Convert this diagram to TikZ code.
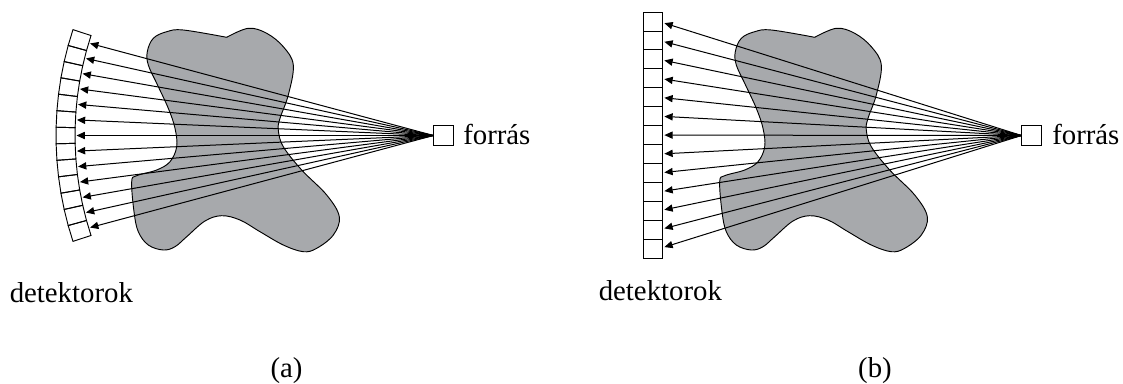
\documentclass[tikz,border=0pt]{standalone}
\usepackage{fontspec}
\setmainfont{Liberation Serif}
\usepackage{xcolor}
\usetikzlibrary{arrows.meta,positioning,calc}
\definecolor{blobgray}{RGB}{167,169,172}
\tikzset{
  ray/.style={-{Triangle[length=6.2pt,width=5.4pt]},line width=0.75pt},
  sourcebox/.style={draw,line width=0.7pt,minimum size=14.5pt,inner sep=0pt,outer sep=0pt},
  cellbox/.style={draw,line width=0.7pt,minimum width=14.8pt,minimum height=14.2pt,inner sep=0pt,outer sep=0pt},
  label/.style={font=\fontsize{21.6}{24}\selectfont,inner sep=0pt,anchor=base west},
}
\newcommand{\blob}{%
\draw[fill=blobgray,line width=0.7pt] plot[smooth,tension=0.6] coordinates {
(226.7,37.3) (248.3,28.3) (266.7,33.3) (283.3,46.7) (293.3,65) (288.3,95) (280,118.3) (278.3,130)
(283.3,146.7) (301.7,170) (326.7,195) (339.3,216.7) (333.3,235) (316.7,248.3) (303.3,251.7)
(283.3,245) (260,231.7) (240,220) (221.7,215.7) (205,221) (186.7,236.7) (175,246.7) (163.3,250)
(148.3,245) (138.3,231.7) (134,211.7) (131.7,181.7) (136.7,175.7) (156.7,170) (170,161.7)
(176.7,146.7) (175,128.3) (168.3,108.3) (156.7,83.3) (148.3,65) (147.3,51.7) (153.3,38.3)
(166.7,31.7) (183.3,30) (226.7,37.3)};}
\begin{document}
\begin{tikzpicture}[x=0.75pt,y=-0.75pt,>=Latex]
\useasboundingbox (0,0) rectangle (1123,383);
% (a)
\blob
\node[sourcebox] (srca) at (443.5,135.5) {};
\node[label] (forrasa) at (463,144) {forrás};
\coordinate (focusa) at (433.5,135.5);
\foreach \i in {0,...,12} {
  \pgfmathsetmacro{\tlo}{-18.2+2.8*\i}
  \pgfmathsetmacro{\thi}{\tlo+2.8}
  \draw[line width=0.7pt] ({395-320*cos(\tlo)},{135.5+320*sin(\tlo)}) -- ({395-339*cos(\tlo)},{135.5+339*sin(\tlo)})
    -- ({395-339*cos(\thi)},{135.5+339*sin(\thi)}) -- ({395-320*cos(\thi)},{135.5+320*sin(\thi)}) -- cycle;
}
\foreach \i in {-6,...,6} {
  \coordinate (tipa\i) at ({395-318.5*cos(2.8*\i)},{135.5+318.5*sin(2.8*\i)});
  \draw[ray] (focusa) -- (tipa\i);
}
\node[label] (deta) at (9.5,302) {detektorok};
\node[label,anchor=base] (capa) at (286.5,377.5) {(a)};
% (b)
\begin{scope}[xshift=441pt]
\blob
\end{scope}
\node[sourcebox] (srcb) at (1031.5,135.5) {};
\node[label] (forrasb) at (1052,144) {forrás};
\coordinate (focusb) at (1021.5,135.5);
\node[cellbox] (cell0) at (653,21.5) {};
\foreach \i [remember=\i as \j (initially 0)] in {1,...,12}
  \node[cellbox,below=0pt of cell\j] (cell\i) {};
\foreach \i in {0,...,12} {
  \coordinate (tipb\i) at ($(cell\i.east)+(1.5,{(6-\i)*0.27})$);
  \draw[ray] (focusb) -- (tipb\i);
}
\node[label] (detb) at (598.5,300) {detektorok};
\node[label,anchor=base] (capb) at (875,377.5) {(b)};
\end{tikzpicture}
\end{document}
